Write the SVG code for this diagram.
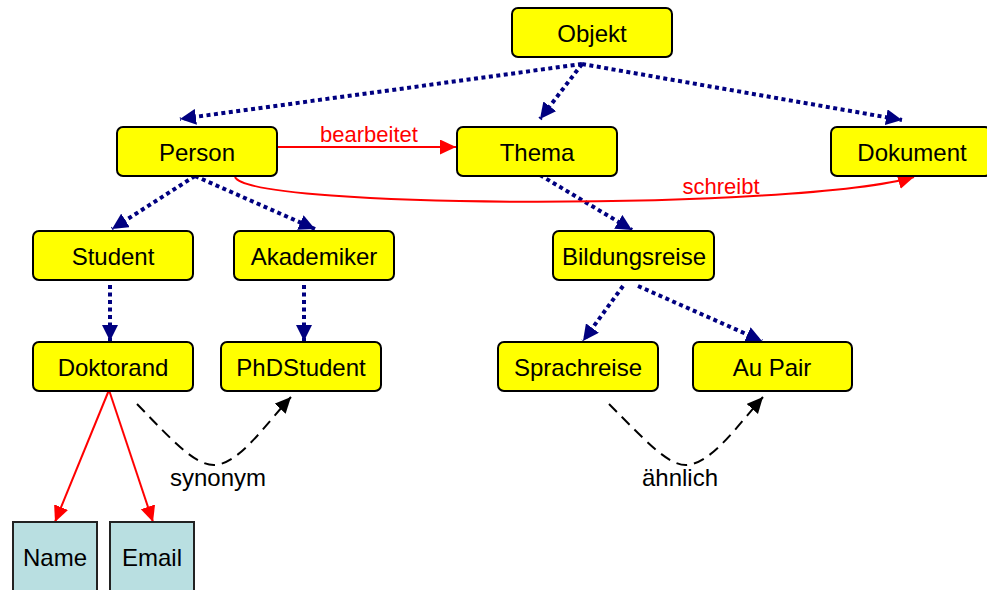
<svg xmlns="http://www.w3.org/2000/svg" width="987" height="590" viewBox="0 0 987 590">
  <style>
    .node rect { fill: #ffff00; stroke: #000; stroke-width: 2; }
    .leaf rect { fill: #b9dfe1; stroke: #222; stroke-width: 2; }
    text { font-family: "Liberation Sans", Arial, sans-serif; }
    .lbl { font-size: 24px; fill: #000; text-anchor: middle; }
    .rel { font-size: 22px; fill: #ff0000; text-anchor: middle; }
    .isa { fill: none; stroke: #000080; stroke-width: 4; stroke-dasharray: 4 3.5; }
    .red { fill: none; stroke: #ff0000; stroke-width: 2; }
    .dash { fill: none; stroke: #000; stroke-width: 2; stroke-dasharray: 11 7; }
  </style>
  <defs>
    <marker id="navy" markerUnits="userSpaceOnUse" markerWidth="17" markerHeight="16" refX="16" refY="8" orient="auto">
      <path d="M0,0 L16,8 L0,16 z" fill="#000080"/>
    </marker>
    <marker id="redhead" markerUnits="userSpaceOnUse" markerWidth="17" markerHeight="16" refX="16" refY="7.5" orient="auto">
      <path d="M0,0 L16,7.5 L0,15 z" fill="#ff0000"/>
    </marker>
    <marker id="blackhead" markerUnits="userSpaceOnUse" markerWidth="17" markerHeight="16" refX="16" refY="7.5" orient="auto">
      <path d="M0,0 L16,7.5 L0,15 z" fill="#000"/>
    </marker>
  </defs>

  <rect width="987" height="590" fill="#fff"/>

  <g id="connectors">
    <!-- is-a hierarchy (dotted navy) -->
    <line class="isa" x1="582" y1="64" x2="180" y2="119" marker-end="url(#navy)"/>
    <line class="isa" x1="582" y1="64" x2="540" y2="119" marker-end="url(#navy)"/>
    <line class="isa" x1="582" y1="64" x2="902" y2="120" marker-end="url(#navy)"/>
    <line class="isa" x1="195" y1="176" x2="112" y2="229" marker-end="url(#navy)"/>
    <line class="isa" x1="195" y1="176" x2="315" y2="229" marker-end="url(#navy)"/>
    <line class="isa" x1="110" y1="285" x2="110" y2="341" marker-end="url(#navy)"/>
    <line class="isa" x1="304" y1="285" x2="304" y2="341" marker-end="url(#navy)"/>
    <line class="isa" x1="540" y1="175" x2="632" y2="230" marker-end="url(#navy)"/>
    <line class="isa" x1="623" y1="286" x2="583" y2="341" marker-end="url(#navy)"/>
    <line class="isa" x1="638" y1="286" x2="762" y2="341" marker-end="url(#navy)"/>

    <!-- relations (red) -->
    <line class="red" x1="277" y1="147" x2="456" y2="147" marker-end="url(#redhead)"/>
    <path class="red" d="M235,177 C250,210 800,210 914,177" marker-end="url(#redhead)"/>
    <line class="red" x1="109" y1="390" x2="55" y2="522" marker-end="url(#redhead)"/>
    <line class="red" x1="109" y1="390" x2="153" y2="522" marker-end="url(#redhead)"/>

    <!-- synonym / similarity (dashed black) -->
    <path class="dash" d="M137,404 C172,440 195,466 215,465 C240,463 265,425 291,397" marker-end="url(#blackhead)"/>
    <path class="dash" d="M609,404 C645,440 668,466 687,465 C712,463 738,425 763,397" marker-end="url(#blackhead)"/>

    <text class="rel" x="369" y="142">bearbeitet</text>
    <text class="rel" x="721" y="194">schreibt</text>
    <text class="lbl" x="218" y="486">synonym</text>
    <text class="lbl" x="680" y="486">ähnlich</text>
  </g>

  <g id="objekt" class="node">
    <rect x="512" y="8" width="160" height="49" rx="6"/>
    <text class="lbl" x="592" y="42">Objekt</text>
  </g>
  <g id="person" class="node">
    <rect x="117" y="127" width="160" height="49" rx="6"/>
    <text class="lbl" x="197" y="161">Person</text>
  </g>
  <g id="thema" class="node">
    <rect x="457" y="127" width="160" height="49" rx="6"/>
    <text class="lbl" x="537" y="161">Thema</text>
  </g>
  <g id="dokument" class="node">
    <rect x="831" y="127" width="160" height="49" rx="6"/>
    <text class="lbl" x="912" y="161">Dokument</text>
  </g>
  <g id="student" class="node">
    <rect x="33" y="231" width="160" height="49" rx="6"/>
    <text class="lbl" x="113" y="265">Student</text>
  </g>
  <g id="akademiker" class="node">
    <rect x="234" y="231" width="160" height="49" rx="6"/>
    <text class="lbl" x="314" y="265">Akademiker</text>
  </g>
  <g id="bildungsreise" class="node">
    <rect x="553" y="231" width="161" height="49" rx="6"/>
    <text class="lbl" x="634" y="265">Bildungsreise</text>
  </g>
  <g id="doktorand" class="node">
    <rect x="33" y="342" width="160" height="49" rx="6"/>
    <text class="lbl" x="113" y="376">Doktorand</text>
  </g>
  <g id="phdstudent" class="node">
    <rect x="221" y="342" width="160" height="49" rx="6"/>
    <text class="lbl" x="301" y="376">PhDStudent</text>
  </g>
  <g id="sprachreise" class="node">
    <rect x="498" y="342" width="160" height="49" rx="6"/>
    <text class="lbl" x="578" y="376">Sprachreise</text>
  </g>
  <g id="aupair" class="node">
    <rect x="693" y="342" width="159" height="49" rx="6"/>
    <text class="lbl" x="772" y="376">Au Pair</text>
  </g>
  <g id="name" class="leaf">
    <rect x="13" y="522" width="84" height="80"/>
    <text class="lbl" x="55" y="566">Name</text>
  </g>
  <g id="email" class="leaf">
    <rect x="110" y="522" width="84" height="80"/>
    <text class="lbl" x="152" y="566">Email</text>
  </g>
</svg>
